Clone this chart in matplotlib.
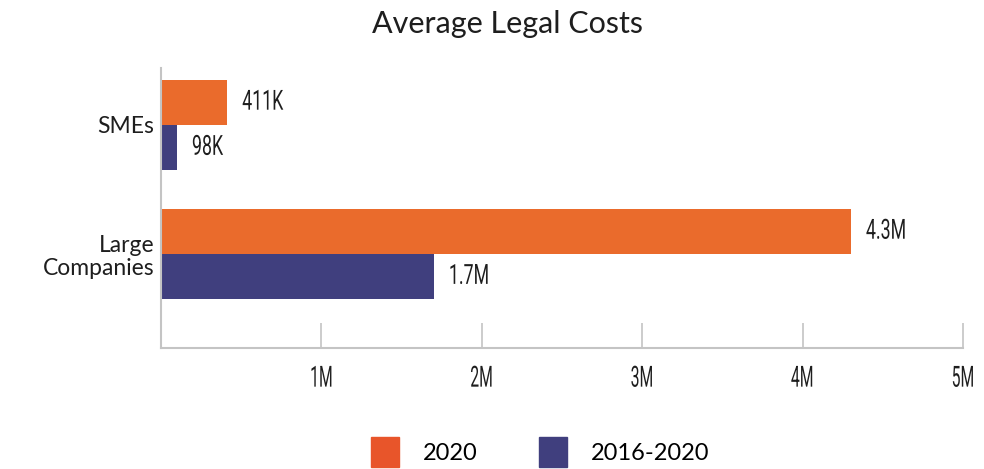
import matplotlib
matplotlib.use("Agg")
from matplotlib import pyplot as plt
from matplotlib.patches import Patch
from matplotlib.patheffects import AbstractPathEffect
from matplotlib.transforms import Affine2D

# average legal costs per company type
categories = ["SMEs", "Large\nCompanies"]
series_names = ["2020", "2016-2020"]
costs_2020 = [411e3, 4.3e6]
costs_2016_2020 = [98e3, 1.7e6]
labels_2020 = ["411K", "4.3M"]
labels_2016_2020 = ["98K", "1.7M"]
tick_values = [1e6, 2e6, 3e6, 4e6, 5e6]
tick_labels = ["1M", "2M", "3M", "4M", "5M"]

orange = "#EA6B2C"
blue = "#403F7E"
legend_orange = "#E8552A"
text_color = "#1e1e1e"
plain = "Lato"
narrow = "Roboto"


class Squeeze(AbstractPathEffect):
    """Narrow the glyphs horizontally, kept anchored left or on centre."""

    def __init__(self, sx, anchor="left"):
        super().__init__()
        self.sx = sx
        self.anchor = anchor

    def draw_path(self, renderer, gc, tpath, affine, rgbFace=None):
        cx = 0.0
        if self.anchor == "center":
            ext = tpath.get_extents()
            cx = (ext.x0 + ext.x1) / 2
        t = Affine2D().translate(-cx, 0).scale(self.sx, 1).translate(cx, 0) + affine
        renderer.draw_path(gc, tpath, t, rgbFace)


fig = plt.figure(figsize=(9.84, 4.69), dpi=100)
ax = fig.add_axes([0.1636, 0.258, 0.815, 0.597])

h = 0.35
pos = list(range(len(categories)))
ax.barh([p - h / 2 for p in pos], costs_2020, height=h, color=orange)
ax.barh([p + h / 2 for p in pos], costs_2016_2020, height=h, color=blue)

for offs, vals, labs in [(-h / 2, costs_2020, labels_2020),
                         (h / 2, costs_2016_2020, labels_2016_2020)]:
    for p, v, t in zip(pos, vals, labs):
        ax.annotate(t, (v, p + offs), xytext=(11, 0), textcoords="offset points",
                    va="center", ha="left", family=narrow,
                    fontsize=20, color=text_color,
                    path_effects=[Squeeze(0.64, "left")])

ax.set_xlim(0, 5e6)
ax.set_ylim(1.73, -0.44)
ax.set_yticks(pos)
ax.set_yticklabels(categories, family=plain, fontsize=16.5, color=text_color,
                   linespacing=1.1)
ax.tick_params(axis="y", length=0, pad=5)
ax.set_xticks(tick_values)
ax.set_xticklabels(tick_labels, family=narrow, fontsize=21, color=text_color)
for lab in ax.get_xticklabels():
    lab.set_path_effects([Squeeze(0.54, "center")])
ax.tick_params(axis="x", direction="in", length=18, width=1.2,
               color="#c4c4c4", pad=12)

for side in ["top", "right"]:
    ax.spines[side].set_visible(False)
for side in ["left", "bottom"]:
    ax.spines[side].set_color("#c4c4c4")
    ax.spines[side].set_linewidth(1.5)

fig.text(0.516, 0.948, "Average Legal Costs", ha="center", va="center",
         family=plain, fontsize=22, color=text_color)

handles = [Patch(color=legend_orange), Patch(color=blue)]
fig.legend(handles, series_names, loc="center", bbox_to_anchor=(0.549, 0.036),
           ncol=2, frameon=False, handlelength=1.2, handleheight=1.6,
           columnspacing=2.6, handletextpad=1.0, borderaxespad=0,
           prop={"family": plain, "size": 17})

fig.savefig("out.png", dpi=100, facecolor="white")
